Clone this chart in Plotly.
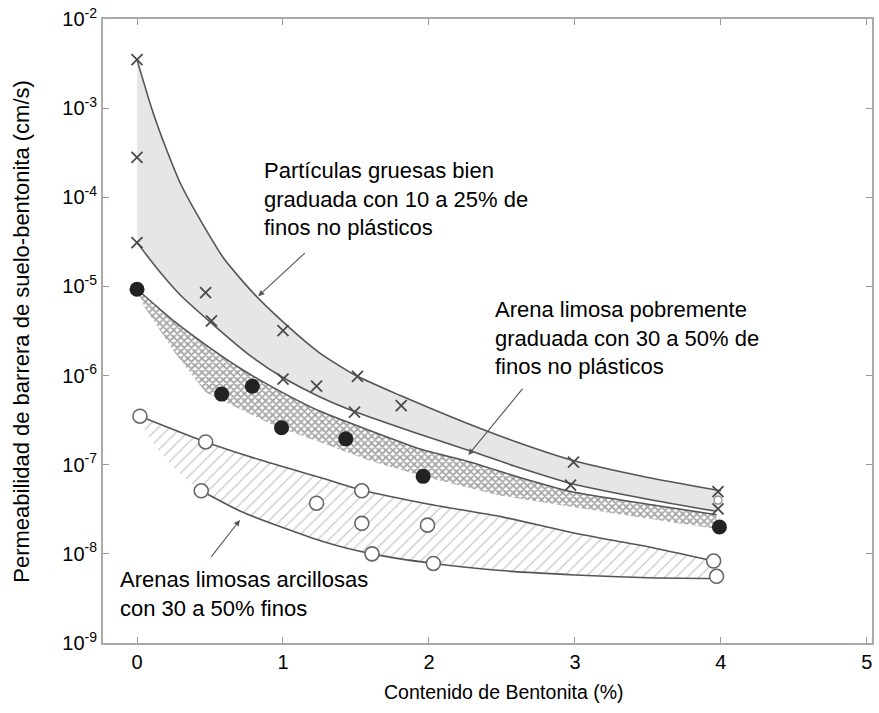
import plotly.graph_objects as go

# bandas: contenido de bentonita (%) vs permeabilidad (cm/s)
gruesa_sup_x = [0, 0.1, 0.2, 0.3, 0.45, 0.6, 0.8, 1.0, 1.25, 1.5, 1.8, 2.2, 2.6, 3.0, 3.5, 4.0]
gruesa_sup_y = [3.5e-3, 1.0e-3, 3.5e-4, 1.4e-4, 5.0e-5, 2.0e-5, 8.3e-6, 4.0e-6, 1.8e-6, 1.0e-6,
                6.0e-7, 3.2e-7, 1.8e-7, 1.1e-7, 7.2e-8, 5.1e-8]
gruesa_inf_x = [0, 0.15, 0.3, 0.5, 0.75, 1.0, 1.25, 1.5, 1.9, 2.3, 2.6, 3.0, 3.5, 3.97]
gruesa_inf_y = [3.1e-5, 1.5e-5, 7.9e-6, 4.0e-6, 1.8e-6, 9.5e-7, 5.8e-7, 3.9e-7, 2.3e-7, 1.4e-7,
                9.5e-8, 6.0e-8, 4.1e-8, 3.0e-8]

limosa_sup_x = [0, 0.26, 0.49, 0.72, 0.95, 1.25, 1.6, 1.94, 2.28, 2.62, 2.97, 3.5, 3.97]
limosa_sup_y = [9.3e-6, 4.0e-6, 2.1e-6, 1.17e-6, 7.1e-7, 4.0e-7, 2.4e-7, 1.5e-7, 1.07e-7, 7.2e-8,
                5.0e-8, 3.6e-8, 2.75e-8]
limosa_inf_x = [0, 0.05, 0.26, 0.47, 0.6, 0.95, 1.25, 1.6, 1.96, 2.49, 3.17, 3.97]
limosa_inf_y = [9.3e-6, 5.9e-6, 1.8e-6, 6.5e-7, 5.1e-7, 2.7e-7, 1.8e-7, 1.1e-7, 7.4e-8, 4.5e-8,
                3.0e-8, 1.9e-8]

arcillosa_sup_x = [0.02, 0.47, 0.83, 1.29, 1.54, 2.0, 2.5, 3.0, 3.5, 3.95]
arcillosa_sup_y = [3.5e-7, 1.8e-7, 1.15e-7, 6.9e-8, 5.2e-8, 3.6e-8, 2.6e-8, 1.7e-8, 1.2e-8, 8.3e-9]
arcillosa_inf_x = [0.44, 0.72, 1.29, 1.61, 2.03, 2.49, 3.0, 3.5, 3.97]
arcillosa_inf_y = [5.1e-8, 2.95e-8, 1.35e-8, 1.0e-8, 7.8e-9, 6.5e-9, 5.8e-9, 5.4e-9, 5.3e-9]
arcillosa_borde_x = [0.38, 0.26, 0.14, 0.05]
arcillosa_borde_y = [6.0e-8, 8.9e-8, 1.5e-7, 2.5e-7]

# puntos de ensayo
cruces_x = [0, 0, 0, 0.47, 0.51, 1.0, 1.0, 1.23, 1.51, 1.49, 1.81, 2.99, 2.97, 3.98, 3.98]
cruces_y = [3.5e-3, 2.8e-4, 3.1e-5, 8.5e-6, 4.1e-6, 3.2e-6, 9.1e-7, 7.6e-7, 9.8e-7, 3.9e-7,
            4.6e-7, 1.07e-7, 5.9e-8, 5.0e-8, 3.2e-8]
llenos_x = [0, 0.58, 0.79, 0.99, 1.43, 1.96, 3.99]
llenos_y = [9.3e-6, 6.2e-7, 7.6e-7, 2.6e-7, 1.95e-7, 7.4e-8, 2.0e-8]
vacios_x = [0.02, 0.47, 0.44, 1.23, 1.54, 1.54, 1.99, 1.61, 2.03, 3.95, 3.97]
vacios_y = [3.5e-7, 1.8e-7, 5.1e-8, 3.7e-8, 5.1e-8, 2.2e-8, 2.1e-8, 1.0e-8, 7.8e-9, 8.3e-9, 5.6e-9]
vacio_chico_x = [3.98]
vacio_chico_y = [4.0e-8]

y_ticks = [1e-9, 1e-8, 1e-7, 1e-6, 1e-5, 1e-4, 1e-3, 1e-2]
y_labels = ["10<sup>-9</sup>", "10<sup>-8</sup>", "10<sup>-7</sup>", "10<sup>-6</sup>",
            "10<sup>-5</sup>", "10<sup>-4</sup>", "10<sup>-3</sup>", "10<sup>-2</sup>"]
x_ticks = [0, 1, 2, 3, 4, 5]

LINEA = "#555555"
FONT = "Liberation Sans, Arial, sans-serif"

fig = go.Figure()

# rellenos
fig.add_trace(go.Scatter(
    x=gruesa_sup_x + gruesa_inf_x[::-1], y=gruesa_sup_y + gruesa_inf_y[::-1],
    fill="toself", fillcolor="#e6e6e6", mode="none", hoverinfo="skip"))
fig.add_trace(go.Scatter(
    x=limosa_sup_x + limosa_inf_x[::-1], y=limosa_sup_y + limosa_inf_y[::-1],
    fill="toself", mode="none", hoverinfo="skip", fillcolor="white",
    fillpattern=dict(shape="x", size=5, solidity=0.6, fgcolor="#4e4e4e", bgcolor="white")))
fig.add_trace(go.Scatter(
    x=arcillosa_sup_x + arcillosa_inf_x[::-1] + arcillosa_borde_x,
    y=arcillosa_sup_y + arcillosa_inf_y[::-1] + arcillosa_borde_y,
    fill="toself", mode="none", hoverinfo="skip", fillcolor="white",
    fillpattern=dict(shape="/", size=8, solidity=0.15, fgcolor="#8f8f8f", bgcolor="white")))

# contornos
for xs, ys in [(gruesa_sup_x, gruesa_sup_y), (gruesa_inf_x, gruesa_inf_y),
               (limosa_sup_x, limosa_sup_y),
               (arcillosa_sup_x, arcillosa_sup_y), (arcillosa_inf_x, arcillosa_inf_y)]:
    fig.add_trace(go.Scatter(x=xs, y=ys, mode="lines", hoverinfo="skip",
                             line=dict(color=LINEA, width=1.6, shape="spline", smoothing=0.6)))

# puntos
fig.add_trace(go.Scatter(x=cruces_x, y=cruces_y, mode="markers",
                         marker=dict(symbol="x-thin", size=11, line=dict(color="#4a4a4a", width=1.8))))
fig.add_trace(go.Scatter(x=llenos_x, y=llenos_y, mode="markers",
                         marker=dict(symbol="circle", size=15, color="#222222")))
fig.add_trace(go.Scatter(x=vacios_x, y=vacios_y, mode="markers",
                         marker=dict(symbol="circle", size=14, color="white",
                                     line=dict(color="#666666", width=1.6))))
fig.add_trace(go.Scatter(x=vacio_chico_x, y=vacio_chico_y, mode="markers",
                         marker=dict(symbol="circle", size=8, color="white",
                                     line=dict(color="#888888", width=1.2))))

texto = dict(family=FONT, size=22, color="black")
notas = [
    dict(x=0.856, y=-3.54, text="Partículas gruesas bien<br>graduada con 10 a 25% de<br>finos no plásticos"),
    dict(x=2.44, y=-5.10, text="Arena limosa pobremente<br>graduada con 30 a 50% de<br>finos no plásticos"),
    dict(x=-0.13, y=-8.13, text="Arenas limosas arcillosas<br>con 30 a 50% finos"),
]
for n in notas:
    fig.add_annotation(x=n["x"], y=n["y"], text=n["text"], xref="x", yref="y",
                       xanchor="left", yanchor="top", align="left", showarrow=False, font=texto)

flechas = [((0.83, -5.11), (1.16, -4.61)), ((2.27, -6.89), (2.65, -6.13)), ((0.705, -7.62), (0.5, -8.05))]
for (px, py), (tx, ty) in flechas:
    fig.add_annotation(x=px, y=py, ax=tx, ay=ty, xref="x", yref="y", axref="x", ayref="y",
                       text="", showarrow=True, arrowhead=2, arrowsize=1.1, arrowwidth=1.1,
                       arrowcolor="#555555")

fig.add_annotation(x=0.521, y=-0.0785, xref="paper", yref="paper", text="Contenido de Bentonita (%)",
                   showarrow=False, font=dict(family=FONT, size=19.5, color="black"),
                   xanchor="center", yanchor="middle")
fig.add_annotation(x=-0.107, y=0.50, xref="paper", yref="paper",
                   text="Permeabilidad de barrera de suelo-bentonita (cm/s)", textangle=-90,
                   showarrow=False, font=dict(family=FONT, size=22, color="black"),
                   xanchor="center", yanchor="middle")

fig.update_layout(
    width=879, height=713,
    margin=dict(l=103, r=7, t=19, b=70),
    paper_bgcolor="white", plot_bgcolor="white",
    showlegend=False,
    font=dict(family=FONT, size=20, color="black"),
)
fig.update_xaxes(range=[-0.233, 5.035], tickvals=x_ticks, ticks="inside", ticklen=6, tickcolor="#999999",
                 showline=True, linecolor="#aaaaaa", linewidth=2, mirror="ticks", automargin=False,
                 showgrid=False, zeroline=False, tickfont=dict(size=20), ticklabeloverflow="allow")
fig.update_yaxes(type="log", range=[-9, -2], tickvals=y_ticks, ticktext=y_labels, ticks="inside",
                 ticklen=6, tickcolor="#999999", showline=True, linecolor="#aaaaaa", linewidth=2,
                 mirror="ticks", showgrid=False, zeroline=False, tickfont=dict(size=20),
                 automargin=False, ticklabeloverflow="allow")

# sin el margen por defecto del cuerpo la figura ocupa la ventana entera
fig.write_html("out.html", config={"displayModeBar": False},
               post_script="document.body.style.margin = '0';")
